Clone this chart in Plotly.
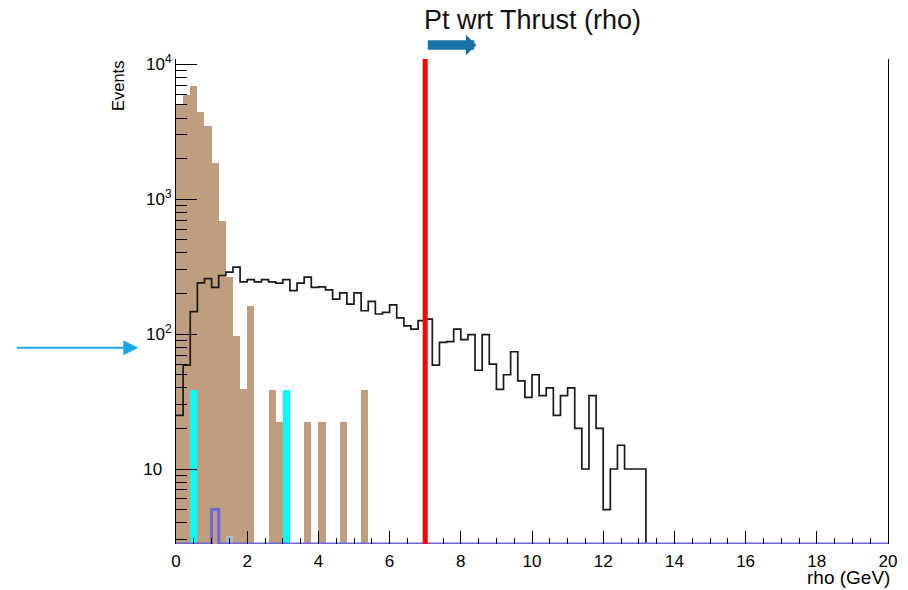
import numpy as np
import plotly.graph_objects as go

# ---------------- data ----------------
BIN_WIDTH = 0.2          # GeV per bin, histogram starts at 0
X_RANGE = [0.0, 20.0]
Y_RANGE = [2.78, 10960.0]
CUT_VALUE = 7.0          # red cut line

# black step histogram (data), bins 0..65 starting at rho = 0
data_counts = [25, 59, 147, 240, 258, 222, 272, 288, 314, 244,
               254, 244, 254, 244, 239, 254, 210, 239, 265, 222,
               224, 213, 182, 202, 167, 202, 149, 175, 141, 145,
               165, 132, 115, 109, 126, 129, 59, 87, 88, 109,
               91, 99, 54, 99, 60, 39, 50, 74, 45, 34,
               50, 35, 40, 25, 35, 40, 20, 10, 35, 20,
               5, 10, 15, 10, 10, 10]

# brown filled histogram, bins 0..26
brown_counts = [5000, 5960, 6860, 4430, 3520, 1850, 693, 266, 97, 39,
                163, 0, 0, 38.3, 22.4, 0, 0, 0, 22.4, 0,
                22.4, 0, 0, 22.4, 0, 0, 38.3]

# cyan filled histogram, bins 0..15
cyan_counts = [0, 0, 38.3, 0, 0, 0, 0, 0, 0, 0, 0, 0, 0, 0, 0, 38.3]

# light steel-blue filled histogram, bins 0..7
steel_counts = [0, 0, 0, 0, 0, 0, 0, 3.2]

# purple outline histogram, bins 0..99
purple_counts = [0, 0, 0, 0, 0, 5] + [0] * 94

x_tick_vals = [0, 2, 4, 6, 8, 10, 12, 14, 16, 18, 20]
y_tick_vals = [10, 100, 1000, 10000]
y_tick_text = ["10\u00a0\u00a0", "10<sup>2</sup>", "10<sup>3</sup>", "10<sup>4</sup>"]

# ---------------- helpers ----------------
n_total = int(round((X_RANGE[1] - X_RANGE[0]) / BIN_WIDTH))


def bar_xy(counts):
    c = np.asarray(counts, dtype=float)
    idx = np.nonzero(c > 0)[0]
    return X_RANGE[0] + (idx + 0.5) * BIN_WIDTH, c[idx]


def step_xy(counts, floor):
    c = np.zeros(n_total)
    c[:len(counts)] = counts
    c = np.where(c > 0, c, floor)
    edges = X_RANGE[0] + np.arange(n_total + 1) * BIN_WIDTH
    y = np.append(c, c[-1])
    return edges, y


FONT = "Liberation Sans, Arial, Helvetica, sans-serif"
fig = go.Figure()

bx, by = bar_xy(brown_counts)
fig.add_trace(go.Bar(x=bx, y=by, width=BIN_WIDTH, marker=dict(color="#bf9e80", line=dict(width=0)),
                     showlegend=False, hoverinfo="skip"))
cx, cy = bar_xy(cyan_counts)
fig.add_trace(go.Bar(x=cx, y=cy, width=BIN_WIDTH, marker=dict(color="#00ffff", line=dict(width=0)),
                     showlegend=False, hoverinfo="skip"))
sx, sy = bar_xy(steel_counts)
fig.add_trace(go.Bar(x=sx, y=sy, width=BIN_WIDTH, marker=dict(color="#a6bfcc", line=dict(width=0)),
                     showlegend=False, hoverinfo="skip"))

ex, ey = step_xy(data_counts, Y_RANGE[0] * 0.3)
fig.add_trace(go.Scatter(x=ex, y=ey, mode="lines", line=dict(color="#1a1a1a", width=1.7, shape="hv"),
                         showlegend=False, hoverinfo="skip"))

px_, py_ = step_xy(purple_counts, Y_RANGE[0])
fig.add_trace(go.Scatter(x=px_, y=py_, mode="lines", line=dict(color="#6f66d8", width=3, shape="hv"),
                         showlegend=False, hoverinfo="skip"))

# minor ticks for log axis
y_minor = [m * 10 ** e for e in range(0, 4) for m in range(2, 10)
           if Y_RANGE[0] <= m * 10 ** e <= Y_RANGE[1]]

# the page places the figure 8 px from the top-left corner
W, H = 900, 582
PLOT_L, PLOT_R, PLOT_T, PLOT_B = 167.7, 879.7, 51.3, 536.3
PW, PH = PLOT_R - PLOT_L, PLOT_B - PLOT_T


def paper_x(px):
    return (px - 8 - PLOT_L) / PW


def paper_y(py):
    return (PLOT_B - (py - 8)) / PH


fig.update_layout(
    width=W, height=H,
    margin=dict(l=PLOT_L, r=W - PLOT_R, t=PLOT_T, b=H - PLOT_B, autoexpand=False),
    paper_bgcolor="white", plot_bgcolor="white",
    barmode="overlay", bargap=0,
    font=dict(family=FONT, color="black", size=17),
    title=dict(text="Pt wrt Thrust (rho)", x=(532.5 - 8) / W, xref="container", xanchor="center",
               y=1 - 12 / H, yref="container", yanchor="middle",
               font=dict(size=27, family=FONT, color="#111")),
    xaxis=dict(range=X_RANGE, showgrid=False, zeroline=False, showline=False,
               tickvals=x_tick_vals, ticks="inside", ticklen=13, tickwidth=1, tickcolor="black",
               minor=dict(dtick=0.5, ticks="inside", ticklen=6, tickwidth=1, tickcolor="black"),
               tickfont=dict(size=17), ticklabelstandoff=5),
    xaxis2=dict(range=X_RANGE, overlaying="x", side="top", showline=True, linecolor="black", linewidth=1,
                showgrid=False, zeroline=False, showticklabels=False, ticks=""),
    yaxis=dict(type="log", range=[np.log10(Y_RANGE[0]), np.log10(Y_RANGE[1])],
               showgrid=False, zeroline=False, showline=True, mirror=True, linecolor="black", linewidth=1,
               tickvals=y_tick_vals, ticktext=y_tick_text, ticks="inside", ticklen=21, tickwidth=1,
               tickcolor="black",
               minor=dict(tickmode="array", tickvals=y_minor, ticks="inside", ticklen=11, tickwidth=1,
                          tickcolor="black"),
               tickfont=dict(size=17), ticklabelstandoff=0),
    shapes=[dict(type="line", xref="x", yref="paper", x0=CUT_VALUE, x1=CUT_VALUE, y0=0, y1=1,
                 line=dict(color="#ff0000", width=5), layer="above")],
    annotations=[
        dict(text="rho (GeV)", xref="paper", yref="paper", x=paper_x(892), y=paper_y(577.5),
             xanchor="right", yanchor="middle", showarrow=False, font=dict(size=19, family=FONT)),
        dict(text="Events", xref="paper", yref="paper", x=paper_x(117), y=paper_y(59),
             xanchor="center", yanchor="top", textangle=-90, showarrow=False,
             font=dict(size=16.5, family=FONT)),
        # blue arrow next to the title
        dict(text="", xref="paper", yref="paper", x=paper_x(476), y=paper_y(45.3),
             ax=-50, ay=0, showarrow=True, arrowhead=1, arrowsize=0.37, arrowwidth=9.3,
             arrowcolor="#1773a6"),
        # light-blue arrow pointing to the 10^2 label
        dict(text="", xref="paper", yref="paper", x=paper_x(138), y=paper_y(348),
             ax=-123, ay=0, showarrow=True, arrowhead=2, arrowsize=1.5, arrowwidth=2,
             arrowcolor="#1ba8e8"),
    ],
)

fig.write_html("out.html")
